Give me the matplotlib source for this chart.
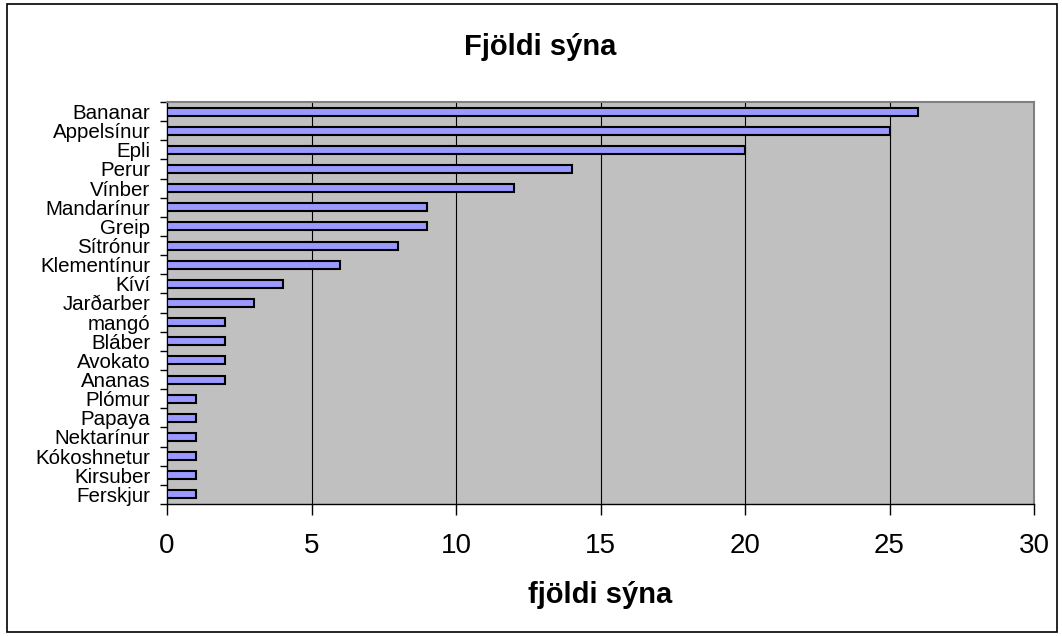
import matplotlib
matplotlib.use('Agg')
import matplotlib.pyplot as plt
import numpy as np

# data, top to bottom as in the chart
fruits = ['Bananar', 'Appelsínur', 'Epli', 'Perur', 'Vínber', 'Mandarínur', 'Greip',
          'Sítrónur', 'Klementínur', 'Kíví', 'Jarðarber', 'mangó', 'Bláber', 'Avokato',
          'Ananas', 'Plómur', 'Papaya', 'Nektarínur', 'Kókoshnetur', 'Kirsuber', 'Ferskjur']
counts = [26, 25, 20, 14, 12, 9, 9, 8, 6, 4, 3, 2, 2, 2, 2, 1, 1, 1, 1, 1, 1]
xticks = [0, 5, 10, 15, 20, 25, 30]

plt.rcParams['font.family'] = ['Liberation Sans', 'DejaVu Sans']

fig = plt.figure(figsize=(10.62, 6.36), dpi=100)
fig.patch.set_facecolor('white')
# outer chart border
fig.add_artist(plt.Rectangle((0.007, 0.007), 0.988, 0.986, transform=fig.transFigure,
                             fill=False, edgecolor='black', linewidth=1.2))

ax = fig.add_axes([167 / 1062, 1 - 504 / 636, 867 / 1062, 402 / 636])
ax.set_facecolor('#c0c0c0')

n = len(fruits)
y = np.arange(n)
ax.barh(y, counts, height=0.42, color='#9999ff', edgecolor='black', linewidth=1.5, zorder=3)

ax.set_xlim(0, 30)
ax.set_ylim(n - 0.5, -0.5)
ax.set_xticks(xticks)
ax.set_xticklabels([str(t) for t in xticks], fontsize=20)
ax.tick_params(axis='x', length=8, width=1, pad=13, color='black')
for t in xticks[1:-1]:
    ax.axvline(t, color='black', linewidth=0.8, zorder=1)

ax.set_yticks(y)
ax.set_yticklabels(fruits, fontsize=14.8)
ax.tick_params(axis='y', which='major', length=0, pad=12)
ax.set_yticks(np.arange(n + 1) - 0.5, minor=True)
ax.tick_params(axis='y', which='minor', length=5, width=1, color='black')

for s in ['top', 'right']:
    ax.spines[s].set_color('#808080')
    ax.spines[s].set_linewidth(1.5)
for s in ['left', 'bottom']:
    ax.spines[s].set_color('black')
    ax.spines[s].set_linewidth(1)

fig.text(0.565, 1 - 603 / 636, 'fjöldi sýna', ha='center', va='baseline',
         fontsize=21, fontweight='bold')
fig.text(540 / 1062, 1 - 55 / 636, 'Fjöldi sýna', ha='center', va='baseline',
         fontsize=21, fontweight='bold')

plt.savefig('out.png', dpi=100)
